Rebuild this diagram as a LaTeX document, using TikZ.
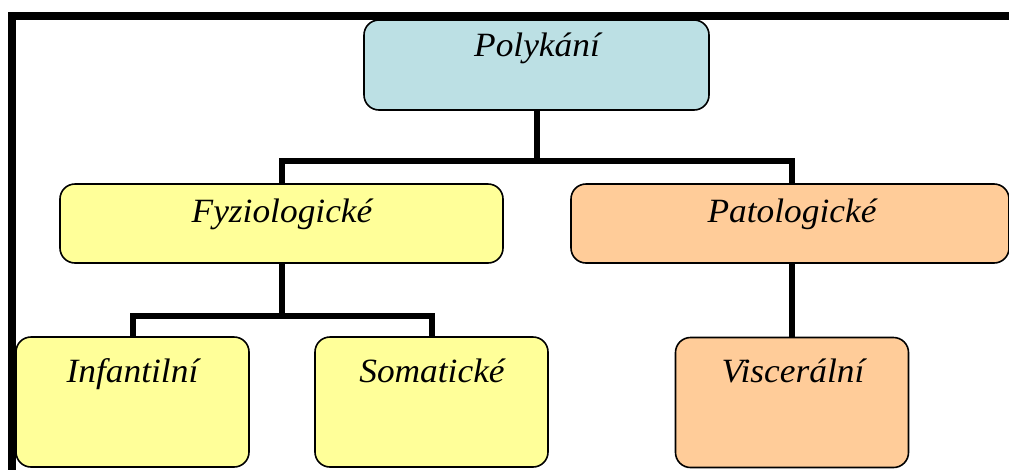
\documentclass[tikz,border=0pt]{standalone}
\usepackage{fontspec}
\setmainfont{Liberation Serif}[FakeStretch=1.04]
\begin{document}
\begin{tikzpicture}[x=1pt,y=-1pt,
  box/.style={draw=black, line width=1.6pt, rounded corners=15pt, inner sep=0pt},
  blue/.style={box, fill={rgb,255:red,188;green,224;blue,228}},
  yellowbox/.style={box, fill={rgb,255:red,255;green,255;blue,153}},
  orangebox/.style={box, fill={rgb,255:red,255;green,204;blue,153}},
  caption/.style={anchor=base, inner sep=0pt, font=\itshape\fontsize{34}{40}\selectfont},
  link/.style={line width=6pt, line cap=butt}]
\useasboundingbox (0,0) rectangle (1009,469);
\clip (0,0) rectangle (1009,469);

% outer frame (top and left sides)
\draw[line width=8pt] (11.5,480) -- (11.5,15.5) -- (1020,15.5);

% boxes
\node[blue, minimum width=345pt, minimum height=90pt] (poly) at (536.5,65) {};
\node[yellowbox, minimum width=443pt, minimum height=79pt] (fyz) at (281.5,223.5) {};
\node[orangebox, minimum width=438pt, minimum height=79pt] (pat) at (790,223.5) {};
\node[yellowbox, minimum width=233pt, minimum height=130pt] (inf) at (132.5,402) {};
\node[yellowbox, minimum width=233pt, minimum height=130pt] (som) at (431.5,402) {};
\node[orangebox, minimum width=233pt, minimum height=130pt] (vis) at (792,402.5) {};

% captions
\node[caption] (tpoly) at (537,56) {Polykání};
\node[caption] (tfyz) at (282,222) {Fyziologické};
\node[caption] (tpat) at (792,222) {Patologické};
\node[caption] (tinf) at (132.5,382) {Infantilní};
\node[caption] (tsom) at (432,382) {Somatické};
\node[caption] (tvis) at (793,382) {Viscerální};

% connectors
\coordinate (bus1) at (0,161);
\coordinate (bus2) at (0,316);
\draw[link] (poly.south) -- (poly.south |- bus1);
\draw[link] (fyz.north) -- (fyz.north |- bus1) -- (vis.north |- bus1) -- (vis.north |- pat.north);
\draw[link] (fyz.south) -- (fyz.south |- bus2);
\draw[link] (inf.north) -- (inf.north |- bus2) -- (som.north |- bus2) -- (som.north);
\draw[link] (vis.north |- pat.south) -- (vis.north);
\end{tikzpicture}
\end{document}
